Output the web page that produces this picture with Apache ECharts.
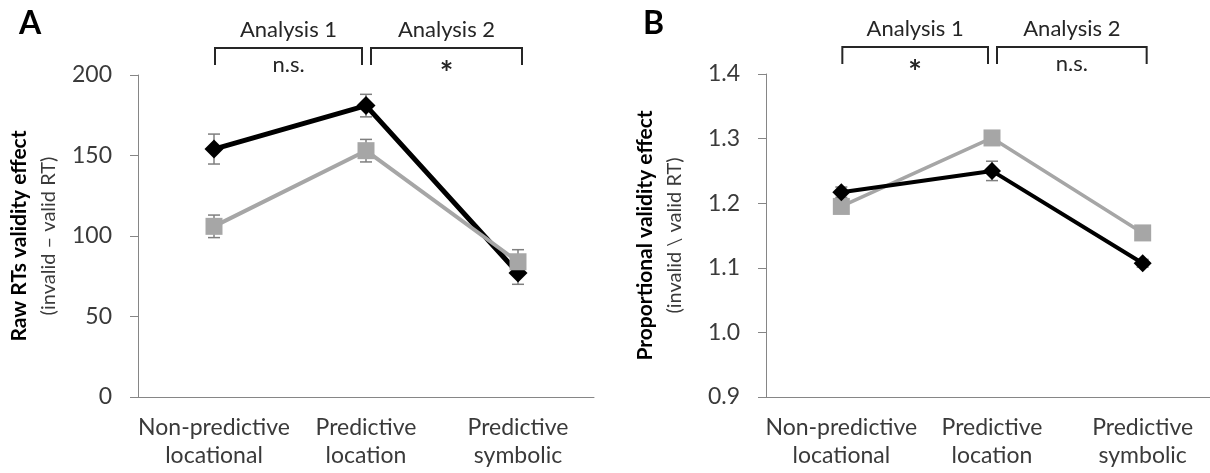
<!DOCTYPE html>
<html>
<head>
<meta charset="utf-8">
<script src="https://cdn.jsdelivr.net/npm/echarts@6/dist/echarts.min.js"></script>
<style>
html,body{margin:0;padding:0;background:#fff;}
#c{width:1210px;height:473px;}
</style>
</head>
<body>
<div id="c"></div>
<script>
// ---- data ----
const categories = ['Non-predictive\nlocational', 'Predictive\nlocation', 'Predictive\nsymbolic'];

const rawBlack = [154, 181, 77];
const rawBlackErr = [9.3, 7, 7];
const rawGray = [106, 153, 84];
const rawGrayErr = [7, 7, 7.5];

const propBlack = [1.217, 1.250, 1.107];
const propBlackErr = [0.008, 0.015, 0.006];
const propGray = [1.195, 1.301, 1.154];
const propGrayErr = [0.008, 0.008, 0.008];

const rawTicks = {min: 0, max: 200, interval: 50};
const propTicks = {min: 0.9, max: 1.4, interval: 0.1};

const bracketsA = [
  {from: 0, to: 1, title: 'Analysis 1', stat: 'n.s.'},
  {from: 1, to: 2, title: 'Analysis 2', stat: '*'}
];
const bracketsB = [
  {from: 0, to: 1, title: 'Analysis 1', stat: '*'},
  {from: 1, to: 2, title: 'Analysis 2', stat: 'n.s.'}
];

// ---- styling ----
const FONT = 'Lato';
const TXT = '#3a3a3a';
const AXIS = '#868686';
const BLACK = '#000000';
const GRAY = '#a6a6a6';

function errSeries(idx, vals, errs, z) {
  return {
    type: 'custom',
    xAxisIndex: idx, yAxisIndex: idx,
    z: z,
    silent: true,
    data: vals.map((v, i) => [i, v - errs[i], v + errs[i]]),
    encode: {x: 0, y: [1, 2]},
    renderItem: function (params, api) {
      const x = api.value(0);
      const lo = api.coord([x, api.value(1)]);
      const hi = api.coord([x, api.value(2)]);
      const w = 6;
      const st = {stroke: '#7f7f7f', lineWidth: 1.5};
      return {
        type: 'group',
        children: [
          {type: 'line', shape: {x1: lo[0], y1: lo[1], x2: hi[0], y2: hi[1]}, style: st},
          {type: 'line', shape: {x1: lo[0] - w, y1: lo[1], x2: lo[0] + w, y2: lo[1]}, style: st},
          {type: 'line', shape: {x1: hi[0] - w, y1: hi[1], x2: hi[0] + w, y2: hi[1]}, style: st}
        ]
      };
    }
  };
}

function bracketSeries(idx, brackets, ymax) {
  return {
    type: 'custom',
    xAxisIndex: idx, yAxisIndex: idx,
    clip: false,
    silent: true,
    z: 10,
    data: brackets.map(b => [b.from, b.to]),
    encode: {x: [0, 1]},
    renderItem: function (params, api) {
      const b = brackets[params.dataIndex];
      const p0 = api.coord([b.from, ymax]);
      const p1 = api.coord([b.to, ymax]);
      const top = p0[1];
      const xl = p0[0] + (b.from > 0 ? 5 : 1);
      const xr = p1[0] + (b.to < 2 ? -4 : 4);
      const yb = top - 27, ye = top - 10;
      const st = {stroke: '#262626', lineWidth: 2, fill: null};
      const cx = (xl + xr) / 2;
      const isStar = b.stat === '*';
      return {
        type: 'group',
        children: [
          {type: 'polyline', shape: {points: [[xl, ye], [xl, yb], [xr, yb], [xr, ye]]}, style: st},
          {type: 'text', style: {x: cx, y: top - 45, text: b.title, fill: '#262626',
            font: '22px ' + FONT, align: 'center', verticalAlign: 'middle'}},
          {type: 'text', style: {x: cx, y: top - (isStar ? 0 : 10), text: b.stat, fill: '#262626',
            font: (isStar ? 'bold 32px ' : '22px ') + FONT, align: 'center', verticalAlign: 'middle'}}
        ]
      };
    }
  };
}

function xAxisCfg(idx) {
  return {
    type: 'category', gridIndex: idx, data: categories,
    axisLine: {show: true, lineStyle: {color: AXIS, width: 1}},
    axisTick: {show: false},
    axisLabel: {color: TXT, fontFamily: FONT, fontSize: 23, lineHeight: 28, margin: 17, interval: 0}
  };
}

function yAxisCfg(idx, t, line1, line2, gap, fmt) {
  return {
    type: 'value', gridIndex: idx, min: t.min, max: t.max, interval: t.interval,
    splitLine: {show: false},
    axisLine: {show: true, lineStyle: {color: AXIS, width: 1}},
    axisTick: {show: true, inside: false, length: 8, lineStyle: {color: AXIS}},
    axisLabel: {color: TXT, fontFamily: FONT, fontSize: 23, margin: 26, formatter: fmt},
    name: '{b|' + line1 + '}\n{n|' + line2 + '}',
    nameLocation: 'middle', nameRotate: 90, nameGap: gap,
    nameTextStyle: {
      rich: {
        b: {fontFamily: FONT, fontWeight: 'bold', fontSize: 21, color: '#000', lineHeight: 30},
        n: {fontFamily: FONT, fontSize: 20, color: TXT, lineHeight: 30}
      }
    }
  };
}

function lineSeries(idx, vals, color, symbol, size, width, z) {
  return {
    type: 'line', xAxisIndex: idx, yAxisIndex: idx, data: vals,
    symbol: symbol, symbolSize: size, z: z,
    lineStyle: {color: color, width: width},
    itemStyle: {color: color, opacity: 1},
    emphasis: {disabled: true}
  };
}

const chart = echarts.init(document.getElementById('c'), null, {renderer: 'canvas'});
chart.setOption({
  backgroundColor: '#fff',
  animation: false,
  graphic: [
    {type: 'text', left: 19, top: 8, style: {text: 'A', font: 'bold 32px ' + FONT, fill: '#000'}},
    {type: 'text', left: 643, top: 8, style: {text: 'B', font: 'bold 32px ' + FONT, fill: '#000'}}
  ],
  grid: [
    {left: 138, top: 75, width: 456, height: 322, outerBoundsMode: 'none', containLabel: false},
    {left: 766, top: 74, width: 452, height: 323, outerBoundsMode: 'none', containLabel: false}
  ],
  xAxis: [xAxisCfg(0), xAxisCfg(1)],
  yAxis: [
    yAxisCfg(0, rawTicks, 'Raw RTs validity effect', '(invalid \u2013 valid RT)', 74, v => String(v)),
    yAxisCfg(1, propTicks, 'Proportional validity effect', '(invalid \\ valid RT)', 76, v => v.toFixed(1))
  ],
  series: [
    errSeries(0, rawBlack, rawBlackErr, 1),
    errSeries(0, rawGray, rawGrayErr, 1),
    lineSeries(0, rawBlack, BLACK, 'diamond', 19, 5, 2),
    lineSeries(0, rawGray, GRAY, 'rect', 17, 4, 3),
    errSeries(1, propBlack, propBlackErr, 1),
    errSeries(1, propGray, propGrayErr, 1),
    lineSeries(1, propBlack, BLACK, 'diamond', 18, 4, 3),
    lineSeries(1, propGray, GRAY, 'rect', 17, 3.5, 2),
    bracketSeries(0, bracketsA, rawTicks.max),
    bracketSeries(1, bracketsB, propTicks.max)
  ]
});
</script>
</body>
</html>
